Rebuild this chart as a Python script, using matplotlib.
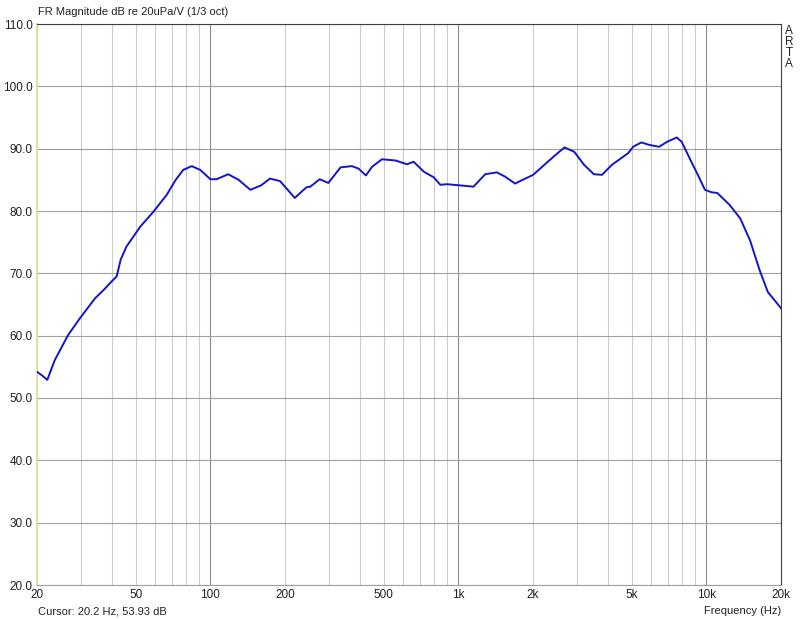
import matplotlib
matplotlib.use("Agg")
import matplotlib.pyplot as plt
import numpy as np

plt.rcParams['font.family'] = ['Liberation Sans', 'DejaVu Sans']

# frequency response (1/3 oct smoothed)
freq_hz = [20, 21, 22, 23.6, 26.7, 29.8, 34.3, 37.5, 40.0, 41.9, 43.5, 45.9, 52.2, 59.0, 66.7, 72.5, 77.8, 84.1, 91.0,
           100, 106, 118, 130, 145, 160, 174, 191, 219, 244, 253, 276, 299, 335, 372, 396, 424, 449, 492,
           558, 621, 660, 726, 796, 846, 900, 1019, 1151, 1284, 1430, 1545, 1694, 1774,
           2004, 2265, 2500, 2680, 2933, 3215, 3520, 3795, 4159, 4845, 5067, 5464, 5893, 6450,
           6945, 7600, 7950, 8700, 9240, 9870, 10500, 11060, 12400, 13700, 15000, 16400, 17700, 19000, 20000]
mag_db = [54.2, 53.6, 52.9, 56.1, 60.1, 62.8, 66.0, 67.5, 68.7, 69.5, 72.2, 74.3, 77.5, 79.9, 82.6, 85.0, 86.6, 87.2, 86.6,
          85.1, 85.1, 85.9, 85.0, 83.4, 84.1, 85.2, 84.8, 82.1, 83.8, 83.9, 85.1, 84.5, 87.0, 87.2, 86.8, 85.7, 87.1, 88.3,
          88.1, 87.5, 87.9, 86.3, 85.4, 84.2, 84.3, 84.1, 83.9, 85.9, 86.2, 85.5, 84.4, 84.8,
          85.8, 87.7, 89.2, 90.2, 89.5, 87.4, 85.9, 85.8, 87.4, 89.3, 90.3, 91.0, 90.6, 90.3,
          91.1, 91.8, 91.1, 87.9, 85.8, 83.4, 83.0, 82.9, 81.0, 78.8, 75.3, 70.5, 67.0, 65.5, 64.4]

x_ticks = [20, 50, 100, 200, 500, 1000, 2000, 5000, 10000, 20000]
x_labels = ["20", "50", "100", "200", "500", "1k", "2k", "5k", "10k", "20k"]
y_ticks = [20, 30, 40, 50, 60, 70, 80, 90, 100, 110]

fig = plt.figure(figsize=(8.0, 6.19), dpi=100)
ax = fig.add_axes([37/800, 1 - 585/619, 744/800, 561/619])

# vertical grid: light lines for every 1-2-...-9, darker for decades
for dec in [10, 100, 1000, 10000]:
    for m in range(1, 10):
        f = dec * m
        if f < 20 or f > 20000:
            continue
        c = '#8c8c8c' if m == 1 else '#cccccc'
        ax.axvline(f, color=c, lw=0.8, zorder=1)
for y in y_ticks:
    ax.axhline(y, color='#a0a0a0', lw=0.8, zorder=1)

ax.semilogx(freq_hz, mag_db, color='#1414cc', lw=1.4, zorder=3)

ax.set_xlim(20, 20000)
ax.set_ylim(20, 110)
ax.set_xticks(x_ticks)
ax.set_xticklabels(x_labels)
ax.xaxis.set_minor_locator(matplotlib.ticker.NullLocator())
ax.set_yticks(y_ticks)
ax.set_yticklabels([f"{v:.1f}" for v in y_ticks])
ax.tick_params(length=0, labelsize=8.5, colors='#222222', pad=3)

for s in ['top', 'right']:
    ax.spines[s].set_color('#404040')
ax.spines['bottom'].set_color('#a0a0a0')
ax.spines['left'].set_color('#e0e0a0')
ax.spines['left'].set_linewidth(1.5)

fig.text(38/800, 1 - 12/619, "FR Magnitude dB re 20uPa/V (1/3 oct)", fontsize=8,
         va='center', ha='left', color='#222222')
fig.text(38/800, 1 - 611/619, "Cursor: 20.2 Hz, 53.93 dB", fontsize=8,
         va='center', ha='left', color='#222222')
fig.text(781/800, 1 - 611/619, "Frequency (Hz)", fontsize=8,
         va='center', ha='right', color='#222222')
for i, ch in enumerate("ARTA"):
    fig.text(789/800, 1 - (31 + i * 11)/619, ch, fontsize=8.5,
             va='center', ha='center', color='#222222')

fig.savefig("out.png", dpi=100, facecolor='white')
